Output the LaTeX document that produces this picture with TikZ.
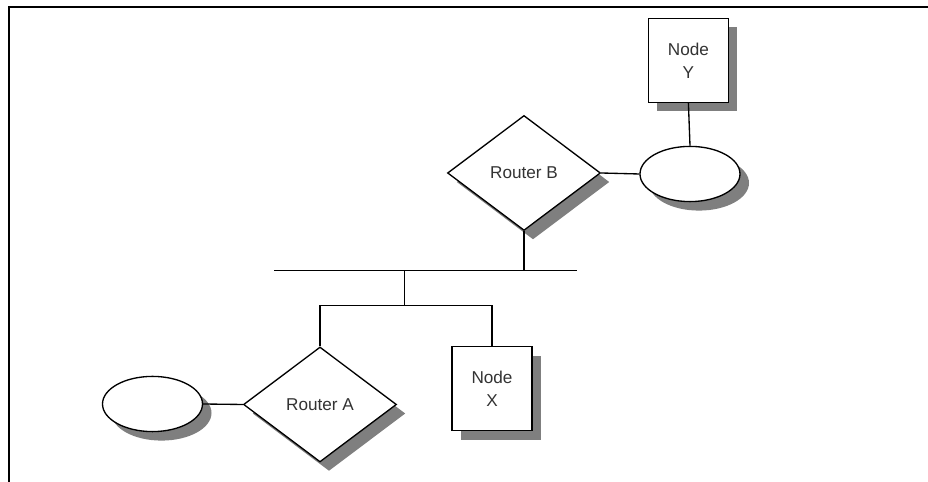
\documentclass[tikz,border=0pt]{standalone}
\usepackage{fontspec}
\setmainfont{Liberation Sans}
\usetikzlibrary{shapes.geometric,shadows}
\definecolor{netdark}{HTML}{333333}
\definecolor{netshadow}{HTML}{7F7F7F}
\tikzset{
  netline/.style={draw=black, line width=0.95pt},
  shade/.style={drop shadow={shadow xshift=0.225cm, shadow yshift=-0.225cm,
                fill=netshadow, opacity=1}},
  hostbox/.style={netline, fill=white, shade, rectangle, align=center,
                  minimum width=2.0cm, minimum height=2.1cm, inner sep=0pt,
                  font=\fontsize{12.2}{16.5}\selectfont, text=netdark},
  router/.style={netline, fill=white, shade, diamond, inner sep=0pt,
                 minimum width=3.825cm, minimum height=2.875cm,
                 font=\fontsize{12.2}{14}\selectfont, text=netdark},
  segment/.style={netline, fill=white, shade, ellipse, inner sep=0pt,
                  minimum width=2.5cm, minimum height=1.38cm}
}

\begin{document}
\begin{tikzpicture}
\useasboundingbox (0,0) rectangle (23.2,12.05);

% frame
\draw[netline] (0.225,0) -- (0.225,11.875) -- (23.2,11.875);

% ------------------------------------------------------------
% UPPER SIDE: Router B and Node Y
% ------------------------------------------------------------
\node[hostbox] (ny) at (17.21,10.54) {Node\\Y};
\node[segment] (segB) at (17.25,7.7) {};
\node[router] (rb) at (13.1,7.725) {Router B};

\draw[netline] (ny.south) -- (segB.north);
\draw[netline] (rb.east) -- (segB.west);

% ------------------------------------------------------------
% BUS
% ------------------------------------------------------------
\coordinate (busL) at (6.85,5.2825);
\coordinate (busR) at (14.42,5.2825);
\coordinate (tap) at (10.11,5.2825);
\coordinate (split) at (10.11,4.4075);

\draw[netline] (busL) -- (busR);
\draw[netline] (rb.south) -- (rb.south |- busL);
\draw[netline] (tap) -- (split);

% ------------------------------------------------------------
% LOWER SIDE: Router A and Node X
% ------------------------------------------------------------
\node[router] (ra) at (8.0,1.9375) {Router A};
\node[hostbox] (nx) at (12.3,2.3325) {Node\\X};
\node[segment] (segA) at (3.8125,1.95) {};

\draw[netline] (ra.north) |- (split) -| (nx.north);
\draw[netline] (segA.east) -- (ra.west);

\end{tikzpicture}
\end{document}
